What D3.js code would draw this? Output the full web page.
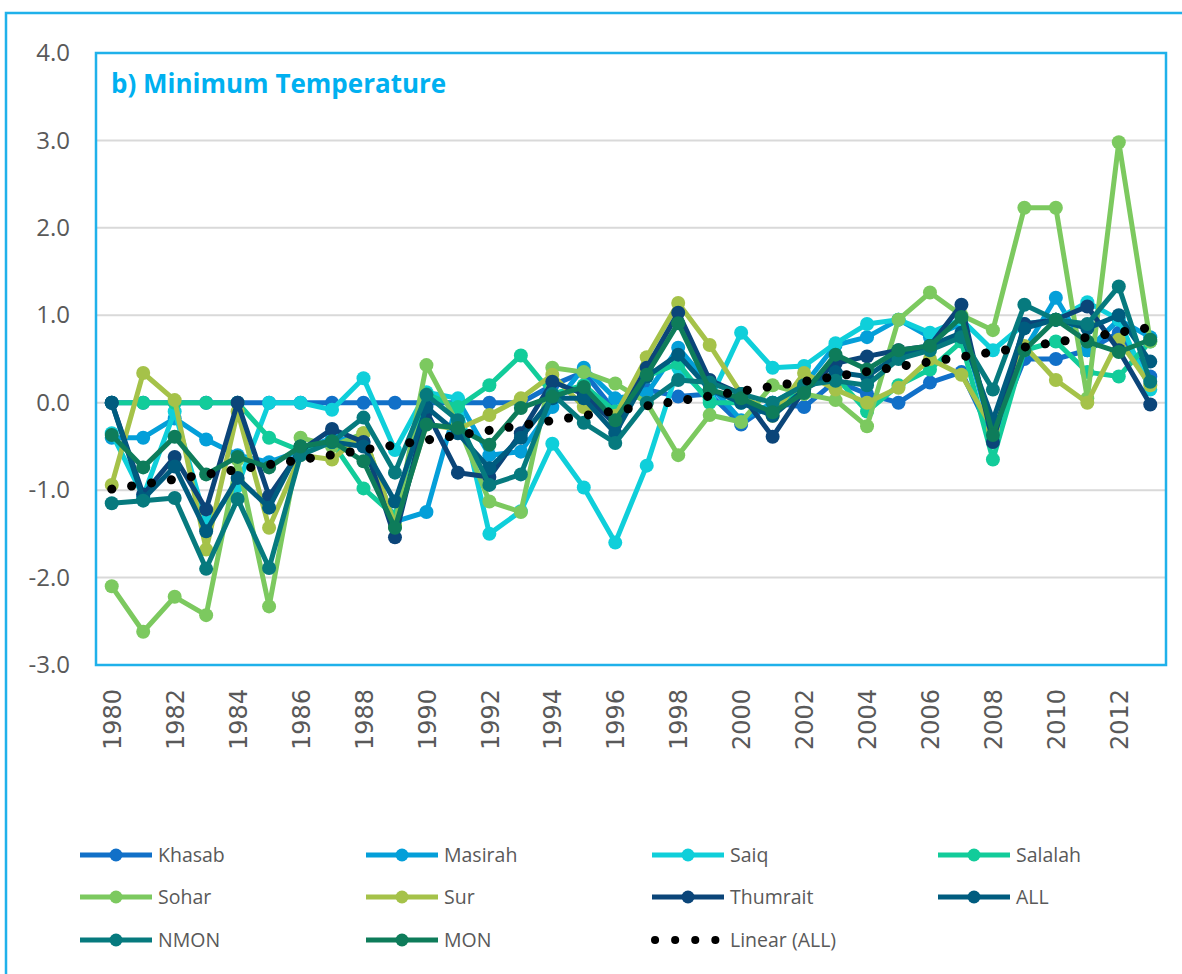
<!DOCTYPE html>
<html>
<head>
<meta charset="utf-8">
<script src="https://cdn.jsdelivr.net/npm/d3@7"></script>
<style>
  body { margin: 0; background: #fff; }
  svg { display: block; }
</style>
</head>
<body>
<svg id="chart" width="1182" height="974"></svg>
<script>
// categories
const years = [1980,1981,1982,1983,1984,1985,1986,1987,1988,1989,1990,1991,1992,1993,1994,1995,1996,1997,
  1998,1999,2000,2001,2002,2003,2004,2005,2006,2007,2008,2009,2010,2011,2012,2013];
const yearLabels = [1980,1982,1984,1986,1988,1990,1992,1994,1996,1998,2000,2002,2004,2006,2008,2010,2012];
const yTicks = [-3, -2, -1, 0, 1, 2, 3, 4];
const yTickLabels = ["-3.0", "-2.0", "-1.0", "0.0", "1.0", "2.0", "3.0", "4.0"];

// series values (anomalies, degC)
const khasab   = [0,0,0,0,0,0,0,0,0,0,0,0,0,0,0.2,0.35,-0.1,0.15,0.07,0.1,-0.25,0.0,-0.05,0.25,0.1,0.0,0.23,0.35,-0.4,0.5,0.5,0.6,0.8,0.3];
const masirah  = [-0.4,-0.4,-0.18,-0.42,-0.6,-0.68,-0.55,-0.4,-0.45,-1.36,-1.25,0.03,-0.6,-0.56,-0.05,0.4,0.05,0.1,0.63,0.2,-0.2,0.0,0.2,0.66,0.75,0.95,0.75,0.9,-0.4,0.6,1.2,0.6,0.95,0.75];
const saiq     = [-0.35,-1.07,-0.1,-1.37,-0.95,0,0,-0.08,0.28,-0.54,0.12,0.05,-1.5,-1.24,-0.47,-0.97,-1.6,-0.72,0.4,0.03,0.8,0.4,0.42,0.68,0.9,0.95,0.8,0.95,0.6,0.9,0.95,1.15,0.95,0.15];
const salalah  = [0,0,0,0,0,-0.4,-0.55,-0.45,-0.98,-1.3,0.1,-0.05,0.2,0.54,0.1,0.2,-0.1,0.3,0.45,0.0,0.0,-0.1,0.2,0.3,-0.1,0.2,0.38,0.7,-0.65,0.6,0.7,0.35,0.3,0.7];
const sohar    = [-2.1,-2.62,-2.22,-2.43,-0.65,-2.33,-0.4,-0.5,-0.35,-1.4,0.43,-0.25,-1.13,-1.25,0.4,0.35,0.22,0.0,-0.6,-0.14,-0.22,0.2,0.1,0.03,-0.27,0.95,1.26,1.0,0.83,2.23,2.23,0.05,2.98,0.7];
const sur      = [-0.94,0.34,0.03,-1.68,-0.1,-1.43,-0.6,-0.65,-0.35,-1.42,-0.25,-0.3,-0.14,0.05,0.32,-0.05,-0.15,0.52,1.14,0.66,0.1,-0.15,0.34,0.15,0.0,0.17,0.5,0.32,-0.3,0.65,0.26,0.0,0.72,0.2];
const thumrait = [0,-1.05,-0.62,-1.22,0,-1.07,-0.55,-0.3,-0.45,-1.54,-0.1,-0.8,-0.85,-0.35,0.24,0.1,-0.25,0.4,1.03,0.26,0.1,-0.39,0.15,0.45,0.53,0.6,0.65,1.12,-0.45,0.9,0.95,1.1,0.6,-0.02];
const allSt    = [0,-1.1,-0.73,-1.47,-0.86,-1.2,-0.5,-0.45,-0.5,-1.13,-0.05,-0.35,-0.75,-0.4,0.05,0.05,-0.35,0.3,0.55,0.15,0,-0.15,0.15,0.35,0.3,0.55,0.65,0.8,-0.2,0.85,0.95,0.85,1.0,0.47];
const nmon     = [-1.15,-1.12,-1.09,-1.9,-1.1,-1.89,-0.6,-0.45,-0.17,-0.8,0.09,-0.2,-0.94,-0.82,0.1,-0.23,-0.46,0.0,0.26,0.23,0.1,0.0,0.2,0.25,0.2,0.5,0.6,0.75,0.15,1.12,0.95,0.9,1.33,0.24];
const mon      = [-0.37,-0.74,-0.39,-0.82,-0.62,-0.74,-0.5,-0.44,-0.67,-1.43,-0.25,-0.29,-0.48,-0.06,0.07,0.18,-0.2,0.32,0.91,0.15,0.05,-0.11,0.11,0.55,0.38,0.6,0.65,0.98,-0.37,0.6,0.95,0.7,0.58,0.72];

const seriesNames  = ["Khasab","Masirah","Saiq","Salalah","Sohar","Sur","Thumrait","ALL","NMON","MON"];
const seriesValues = [khasab, masirah, saiq, salalah, sohar, sur, thumrait, allSt, nmon, mon];
const seriesColors = ["#1170c8","#049fd9","#0fcfda","#12cc9a","#7cc95f","#a5c249","#0b4579","#005c7f","#067a7e","#0e7c5a"];

const svg = d3.select("#chart");
const grey = "#595959";
const frameBlue = "#1fb1ea";

const plot = {left: 96, right: 1166, top: 53, bottom: 665};

const x = d3.scalePoint().domain(years).range([plot.left, plot.right]).padding(0.5);
const y = d3.scaleLinear().domain([-3, 4]).range([plot.bottom, plot.top]);

// outer chart border (only left and top visible)
svg.append("path")
  .attr("d", `M6,974 V13 H1182`)
  .attr("fill", "none")
  .attr("stroke", frameBlue)
  .attr("stroke-width", 2.5);

// gridlines
svg.append("g").selectAll("line")
  .data(yTicks.filter(d => d > -3 && d < 4))
  .join("line")
  .attr("x1", plot.left).attr("x2", plot.right)
  .attr("y1", d => y(d)).attr("y2", d => y(d))
  .attr("stroke", "#d9d9d9")
  .attr("stroke-width", 2);

// y axis labels
const yAxis = d3.axisLeft(y).tickValues(yTicks).tickSize(0).tickPadding(26)
  .tickFormat((d, i) => yTickLabels[i]);
const gy = svg.append("g").attr("transform", `translate(${plot.left},0)`).call(yAxis);
gy.select(".domain").remove();
gy.attr("font-family", null).attr("font-size", null);
gy.selectAll("text")
  .attr("fill", grey)
  .style("font-family", "'Open Sans', sans-serif")
  .style("font-size", "24px");

// x axis labels (rotated)
const xAxis = d3.axisBottom(x).tickValues(yearLabels).tickSize(0);
const gx = svg.append("g").attr("transform", `translate(0,${plot.bottom})`).call(xAxis);
gx.select(".domain").remove();
gx.attr("font-family", null).attr("font-size", null);
gx.selectAll("text")
  .attr("transform", "rotate(-90)")
  .attr("x", -24)
  .attr("y", 0)
  .attr("dy", "0.36em")
  .attr("text-anchor", "end")
  .attr("fill", grey)
  .style("font-family", "'DejaVu Sans'")
  .style("font-size", "24px");

// series
const line = d3.line().x((d, i) => x(years[i])).y(d => y(d));

seriesValues.forEach((vals, k) => {
  const g = svg.append("g");
  g.append("path")
    .attr("d", line(vals))
    .attr("fill", "none")
    .attr("stroke", seriesColors[k])
    .attr("stroke-width", 5)
    .attr("stroke-linejoin", "round");
  g.selectAll("circle")
    .data(vals)
    .join("circle")
    .attr("cx", (d, i) => x(years[i]))
    .attr("cy", d => y(d))
    .attr("r", 7)
    .attr("fill", seriesColors[k]);
});

// linear trend of ALL (least squares)
const n = allSt.length;
const mx = d3.mean(d3.range(n));
const my = d3.mean(allSt);
const slope = d3.sum(allSt, (v, i) => (i - mx) * (v - my)) / d3.sum(d3.range(n), i => (i - mx) * (i - mx));
const icpt = my - slope * mx;
svg.append("line")
  .attr("x1", x(years[0])).attr("y1", y(icpt))
  .attr("x2", x(years[n - 1])).attr("y2", y(icpt + slope * (n - 1)))
  .attr("stroke", "#000")
  .attr("stroke-width", 9)
  .attr("stroke-linecap", "round")
  .attr("stroke-dasharray", "0.1 20");

// plot frame
svg.append("rect")
  .attr("x", plot.left).attr("y", plot.top)
  .attr("width", plot.right - plot.left).attr("height", plot.bottom - plot.top)
  .attr("fill", "none")
  .attr("stroke", frameBlue)
  .attr("stroke-width", 2.5);

// title
svg.append("text")
  .attr("x", 111).attr("y", 93)
  .attr("fill", "#00b0f0")
  .style("font-family", "'Open Sans', sans-serif")
  .style("font-weight", "bold")
  .style("font-size", "26px")
  .text("b) Minimum Temperature");

// legend
const legendItems = seriesNames.map((s, k) => ({name: s, color: seriesColors[k], trend: false}));
legendItems.push({name: "Linear (ALL)", color: "#000", trend: true});
const colX = [80, 366, 652, 938];
const rowY = [855, 897, 940];

const leg = svg.append("g").selectAll("g")
  .data(legendItems)
  .join("g")
  .attr("transform", (d, i) => `translate(${colX[i % 4]},${rowY[Math.floor(i / 4)]})`);

leg.each(function(d) {
  const g = d3.select(this);
  if (d.trend) {
    g.append("line")
      .attr("x1", 3).attr("x2", 66).attr("y1", 0).attr("y2", 0)
      .attr("stroke", "#000").attr("stroke-width", 8)
      .attr("stroke-linecap", "round").attr("stroke-dasharray", "0.1 20");
  } else {
    g.append("line")
      .attr("x1", 0).attr("x2", 72).attr("y1", 0).attr("y2", 0)
      .attr("stroke", d.color).attr("stroke-width", 5);
    g.append("circle").attr("cx", 36).attr("cy", 0).attr("r", 6.5).attr("fill", d.color);
  }
  g.append("text")
    .attr("x", 78).attr("y", 0).attr("dy", "0.35em")
    .attr("fill", grey)
    .style("font-family", "'Open Sans', sans-serif")
    .style("font-size", "19.5px")
    .text(d.name);
});
</script>
</body>
</html>
